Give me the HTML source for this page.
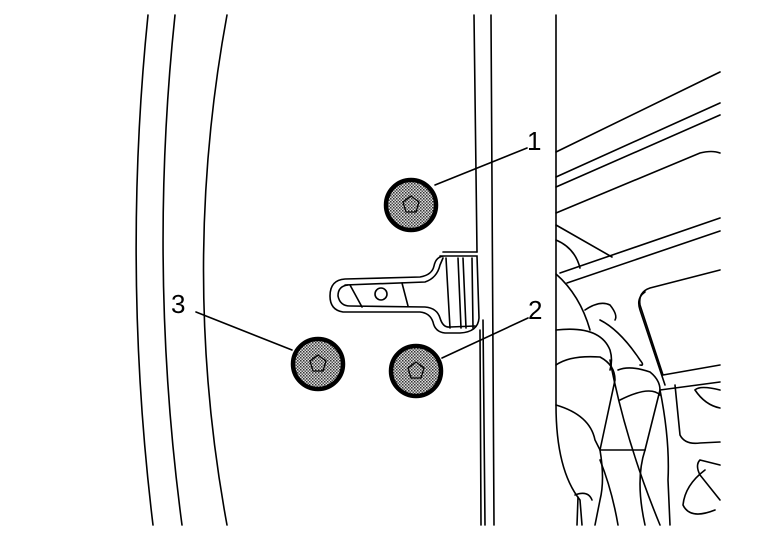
<!DOCTYPE html>
<html><head><meta charset="utf-8"><style>
html,body{margin:0;padding:0;background:#fff;}
svg{display:block}
text{font-family:"Liberation Sans",sans-serif;font-size:26px;fill:#000}
</style></head><body>
<svg width="768" height="544" viewBox="0 0 768 544" xmlns="http://www.w3.org/2000/svg">
<defs>
<pattern id="dots" width="3" height="3" patternUnits="userSpaceOnUse">
<rect width="3" height="3" fill="#ddd"/>
<rect x="0" y="0" width="1.5" height="1.5" fill="#333"/>
<rect x="1.5" y="1.5" width="1.5" height="1.5" fill="#555"/>
</pattern>
</defs>
<g fill="none" stroke="#000" stroke-width="1.6" stroke-linecap="round">
<path d="M148 15 Q122 270 153 525"/>
<path d="M175 15 Q148 270 182 525"/>
<path d="M227 15 Q180 270 227 525"/>
<path d="M474 15 L477 252"/>
<path d="M443 252 L477 252"/>
<path d="M480 330 L481 525"/>
<path d="M483 320 L485 525"/>
<path d="M491 15 L494 525"/>
<path d="M556 15 L556 405 Q556 470 580 500 L582 525"/>
<path d="M440 256 L477 256 L479 318 Q478 332 460 333 L445 333 Q435 332 433 322 Q430 313 420 312 L343 312 Q330 310 330 296 Q330 280 345 279 L420 277 Q432 275 434 266 Q436 256 445 256"/>
<path d="M345 285 L425 282 Q437 278 440 265 L443 258"/>
<path d="M338 296 Q338 286 348 285 M338 296 Q340 306 350 306 L425 307 Q437 308 440 318 Q443 328 450 327 L475 326"/>
<path d="M350 285 L362 307 M402 283 L408 306"/>
<circle cx="381" cy="294" r="6"/>
<path d="M446 258 L450 328 M458 258 L461 328 M463 258 L466 328 M472 258 L473 328"/>
<path d="M527 148 L435 185"/>
<path d="M528 318 L442 358"/>
<path d="M196 312 L292 350"/>
<path d="M556 152 L720 72"/>
<path d="M556 177 L720 103"/>
<path d="M556 187 L720 115"/>
<path d="M556 213 L700 153 Q712 150 720 153"/>
<path d="M556 225 L612 257"/>
<path d="M560 273 L720 218"/>
<path d="M567 283 L720 231"/>
<path d="M556 240 Q575 248 580 268"/>
<path d="M720 270 L650 288 Q638 292 640 305 L663 375 L720 365"/>
<path d="M645 292 Q636 298 640 310 L665 385"/>
<path d="M660 390 L720 382"/>
<path d="M556 274 Q580 295 590 330"/>
<path d="M585 310 Q600 300 610 305 Q618 315 615 320"/>
<path d="M600 320 Q620 330 640 360 Q645 366 640 365"/>
<path d="M556 330 Q600 325 610 350 Q613 360 610 370"/>
<path d="M556 365 Q570 355 600 357 Q615 365 615 380 L600 450"/>
<path d="M618 370 Q630 365 650 372 Q660 380 660 390 L645 450"/>
<path d="M620 400 Q650 385 660 395"/>
<path d="M556 405 Q590 415 595 440 L600 450 L645 450"/>
<path d="M660 390 Q670 440 668 480 L670 525"/>
<path d="M600 450 Q605 480 600 500 L595 525"/>
<path d="M600 460 Q612 490 618 525"/>
<path d="M645 450 Q635 480 645 525"/>
<path d="M610 360 Q625 440 660 525"/>
<path d="M675 385 L680 435 Q685 445 700 443 L720 442"/>
<path d="M720 390 Q700 385 695 390 Q705 405 720 408"/>
<path d="M720 465 L700 460 Q695 465 700 475 L720 500"/>
<path d="M705 470 Q685 485 683 505 Q690 520 715 510"/>
<path d="M575 495 Q588 490 592 500"/>
<path d="M578 497 L577 525"/>
</g>
<g stroke="#000" stroke-width="4.5" fill="url(#dots)">
<circle cx="411" cy="205" r="25"/>
<circle cx="416" cy="371" r="25"/>
<circle cx="318" cy="364" r="25"/>
</g>
<g fill="none" stroke="#000" stroke-width="1.3">
<path d="M411 196 L419 202 L416 212 L406 212 L403 202 Z"/>
<path d="M416 362 L424 368 L421 378 L411 378 L408 368 Z"/>
<path d="M318 355 L326 361 L323 371 L313 371 L310 361 Z"/>
</g>
<text x="527" y="150">1</text>
<text x="528" y="319">2</text>
<text x="171" y="313">3</text>
</svg>
</body></html>
